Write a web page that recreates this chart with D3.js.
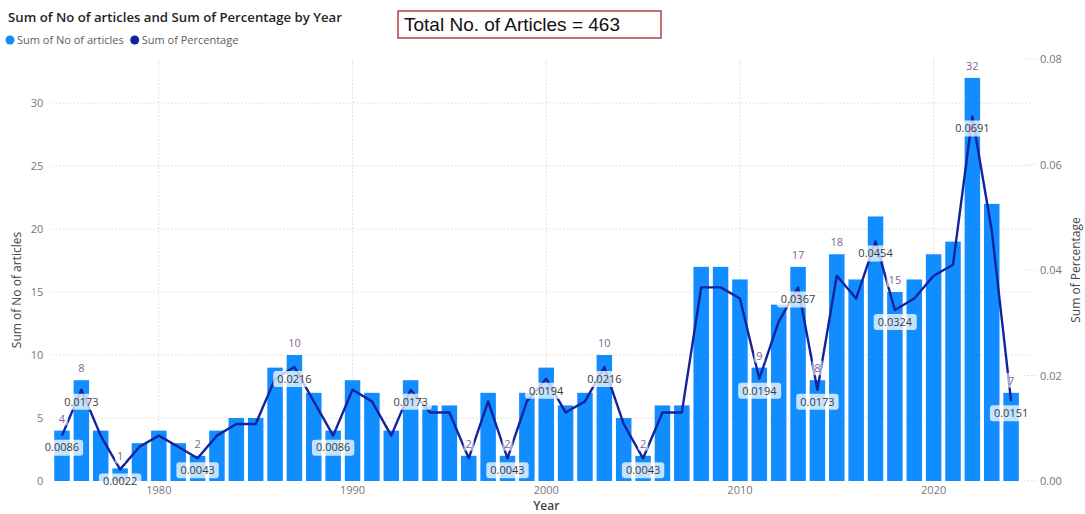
<!DOCTYPE html>
<html>
<head>
<meta charset="utf-8">
<script src="https://cdn.jsdelivr.net/npm/d3@7"></script>
<style>
  html, body { margin: 0; padding: 0; background: #fff; }
  svg { display: block; font-family: "Open Sans", "Noto Sans", sans-serif; }
</style>
</head>
<body>
<svg id="chart" width="1085" height="514"></svg>
<script>
// Articles per publication year and each year's share of the total
const years = d3.range(1975, 2025);
const articleCounts = [4, 8, 4, 1, 3, 4, 3, 2, 4, 5,
                       5, 9, 10, 7, 4, 8, 7, 4, 8, 6,
                       6, 2, 7, 2, 7, 9, 6, 7, 10, 5,
                       2, 6, 6, 17, 17, 16, 9, 14, 17, 8,
                       18, 16, 21, 15, 16, 18, 19, 32, 22, 7];
const percentages = [0.0086, 0.0173, 0.0086, 0.0022, 0.0065, 0.0086, 0.0065, 0.0043, 0.0086, 0.0108,
                     0.0108, 0.0194, 0.0216, 0.0151, 0.0086, 0.0173, 0.0151, 0.0086, 0.0173, 0.0130,
                     0.0130, 0.0043, 0.0151, 0.0043, 0.0151, 0.0194, 0.0130, 0.0151, 0.0216, 0.0108,
                     0.0043, 0.0130, 0.0130, 0.0367, 0.0367, 0.0346, 0.0194, 0.0302, 0.0367, 0.0173,
                     0.0389, 0.0346, 0.0454, 0.0324, 0.0346, 0.0389, 0.0410, 0.0691, 0.0475, 0.0151];

// Years whose values are annotated
const countLabelYears = [1975, 1976, 1978, 1982, 1987, 1996, 1998, 2003, 2005, 2011, 2013, 2014, 2015, 2018, 2022, 2024];
const pctLabelYears = [1975, 1976, 1978, 1982, 1987, 1989, 1993, 1998, 2000, 2003, 2005, 2011, 2013, 2014, 2017, 2018, 2022, 2024];

const countTicks = [0, 5, 10, 15, 20, 25, 30];
const pctTicks = [0, 0.02, 0.04, 0.06, 0.08];
const yearTicks = [1980, 1990, 2000, 2010, 2020];

const totalArticles = 463;

const rows = years.map((y, i) => ({ year: y, count: articleCounts[i], pct: percentages[i] }));

const svg = d3.select("#chart");
const plot = { left: 52.3, right: 1020.8, top: 59, bottom: 481 };

const x = d3.scaleBand().domain(years).range([plot.left, plot.right]).paddingInner(0.2).paddingOuter(0.1);
const yCount = d3.scaleLinear().domain([0, 33.5]).range([plot.bottom, plot.top]);
const yPct = d3.scaleLinear().domain([0, 0.08]).range([plot.bottom, plot.top]);
const cx = y => x(y) + x.bandwidth() / 2;

const BAR = "#118DFF", LINE = "#12239E", GRID = "#d9d9d9", TICK = "#777", AXIS = "#444";

// Gridlines
svg.append("g").selectAll("line").data(countTicks.filter(t => t > 0)).join("line")
  .attr("x1", plot.left).attr("x2", 1032)
  .attr("y1", d => yCount(d)).attr("y2", d => yCount(d))
  .attr("stroke", GRID).attr("stroke-dasharray", "1.5,2");
svg.append("g").selectAll("line").data(yearTicks).join("line")
  .attr("x1", d => cx(d)).attr("x2", d => cx(d))
  .attr("y1", plot.top).attr("y2", plot.bottom)
  .attr("stroke", GRID).attr("stroke-dasharray", "1.5,2");
svg.append("g").selectAll("line").data(pctTicks).join("line")
  .attr("x1", 1024).attr("x2", 1036)
  .attr("y1", d => yPct(d)).attr("y2", d => yPct(d))
  .attr("stroke", GRID).attr("stroke-dasharray", "1.5,2");

// Axes
const leftAxis = svg.append("g").attr("transform", `translate(${plot.left - 8},0)`)
  .call(d3.axisLeft(yCount).tickValues(countTicks).tickSize(0).tickPadding(1));
const rightAxis = svg.append("g").attr("transform", "translate(1038,0)")
  .call(d3.axisRight(yPct).tickValues(pctTicks).tickSize(0).tickPadding(2).tickFormat(d3.format(".2f")));
const bottomAxis = svg.append("g").attr("transform", `translate(0,${plot.bottom})`)
  .call(d3.axisBottom(x).tickValues(yearTicks).tickSize(0).tickPadding(5));
[leftAxis, rightAxis, bottomAxis].forEach(g => {
  g.select(".domain").remove();
  g.selectAll("text").attr("fill", TICK).style("font-size", "11px").style("font-family", "'Open Sans', sans-serif");
});

// Bars
svg.append("g").selectAll("rect").data(rows).join("rect")
  .attr("x", d => x(d.year)).attr("width", x.bandwidth())
  .attr("y", d => yCount(d.count)).attr("height", d => yCount(0) - yCount(d.count))
  .attr("fill", BAR);

// Percentage line
svg.append("path").datum(rows)
  .attr("fill", "none").attr("stroke", LINE).attr("stroke-width", 2.4).attr("stroke-linejoin", "round")
  .attr("d", d3.line().x(d => cx(d.year)).y(d => yPct(d.pct)));

// Count labels above bars
const countG = svg.append("g");
rows.filter(d => countLabelYears.includes(d.year)).forEach(d => {
  const g = countG.append("g").attr("transform", `translate(${cx(d.year)},${yCount(d.count) - 8})`);
  const t = g.append("text").attr("text-anchor", "middle").attr("fill", "#855f9a")
    .style("font-size", "11px").text(d.count);
  const bb = t.node().getBBox();
  g.insert("rect", "text").attr("x", bb.x - 2).attr("y", bb.y).attr("width", bb.width + 4).attr("height", bb.height)
    .attr("rx", 2).attr("fill", "#fff").attr("fill-opacity", 0.6);
});

// Percentage labels below line points
const pctG = svg.append("g");
rows.filter(d => pctLabelYears.includes(d.year)).forEach(d => {
  const g = pctG.append("g").attr("transform", `translate(${cx(d.year)},${yPct(d.pct) + 12})`);
  const t = g.append("text").attr("text-anchor", "middle").attr("dy", "0.35em").attr("fill", "#3a3a3a")
    .style("font-size", "11px").text(d3.format(".4f")(d.pct));
  const bb = t.node().getBBox();
  g.insert("rect", "text").attr("x", bb.x - 4).attr("y", -8).attr("width", bb.width + 8).attr("height", 16)
    .attr("rx", 3).attr("fill", "#fff").attr("fill-opacity", 0.75);
});

// Axis titles
svg.append("text").attr("transform", "translate(21,290) rotate(-90)").attr("text-anchor", "middle")
  .attr("fill", AXIS).style("font-size", "12px").text("Sum of No of articles");
svg.append("text").attr("transform", "translate(1080,270) rotate(-90)").attr("text-anchor", "middle")
  .attr("fill", AXIS).style("font-size", "12px").text("Sum of Percentage");
svg.append("text").attr("x", cx(2000)).attr("y", 510).attr("text-anchor", "middle")
  .attr("fill", AXIS).style("font-size", "12px").style("font-weight", 600).text("Year");

// Title and legend
svg.append("text").attr("x", 8).attr("y", 22).attr("fill", "#252423")
  .style("font-size", "13.2px").style("font-weight", 600)
  .text("Sum of No of articles and Sum of Percentage by Year");
const legend = [{ name: "Sum of No of articles", color: BAR }, { name: "Sum of Percentage", color: LINE }];
let lx = 10;
legend.forEach(l => {
  svg.append("circle").attr("cx", lx).attr("cy", 40).attr("r", 4.5).attr("fill", l.color);
  const t = svg.append("text").attr("x", lx + 7).attr("y", 44).attr("fill", "#605e5c")
    .style("font-size", "11px").text(l.name);
  lx += 7 + t.node().getComputedTextLength() + 11;
});

// Total box
svg.append("rect").attr("x", 398).attr("y", 11).attr("width", 263).attr("height", 27)
  .attr("fill", "#fff").attr("stroke", "#b5403f").attr("stroke-width", 1.5);
svg.append("text").attr("x", 404).attr("y", 31).attr("fill", "#111")
  .style("font-family", "'Liberation Sans', Arial, sans-serif").style("font-size", "19px")
  .text(`Total No. of Articles = ${totalArticles}`);
</script>
</body>
</html>
